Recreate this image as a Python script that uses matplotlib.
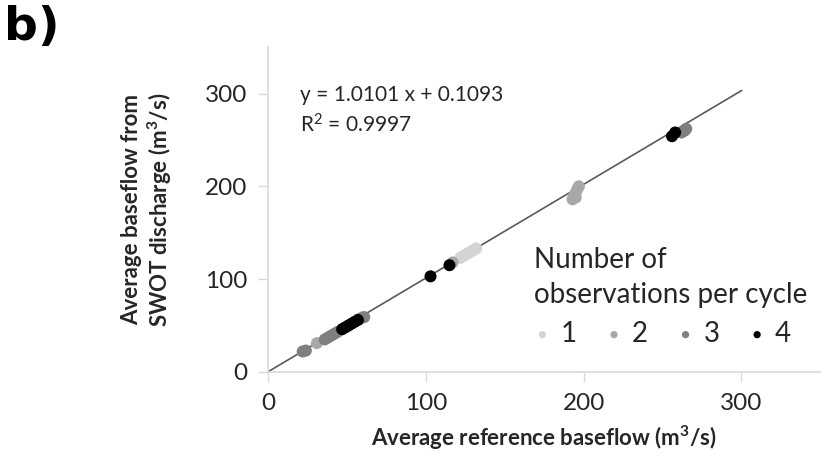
import numpy as np
import matplotlib.pyplot as plt

# average baseflow per station, grouped by number of SWOT observations per cycle
ref_1 = [122, 124, 126, 128, 130, 132]
swot_1 = [123, 125, 127, 129, 131, 133]

ref_2 = [31, 60, 117, 193, 194, 195, 196, 197, 195]
swot_2 = [31, 59, 118, 186, 190, 193, 197, 200, 188]

ref_3 = [22, 24, 36, 38, 40, 42, 44, 58, 61, 262, 264, 265]
swot_3 = [22, 23, 35, 37, 39, 41, 43, 57, 59, 258, 260, 262]

ref_4 = [47, 49, 51, 53, 55, 57, 103, 115, 256, 258]
swot_4 = [46, 48, 50, 52, 54, 56, 103, 115, 254, 258]

labels = ['1', '2', '3', '4']
colors = ['#d4d4d4', '#a8a8a8', '#7f7f7f', '#000000']

slope, intercept, r2 = 1.0101, 0.1093, 0.9997

plt.rcParams['font.family'] = ['Lato', 'DejaVu Sans']
plt.rcParams['mathtext.default'] = 'regular'
txt = '#262626'

fig = plt.figure(figsize=(8.27, 4.62), dpi=100)
ax = fig.add_axes([0.324, 0.195, 0.668, 0.703])

groups = [(ref_1, swot_1), (ref_2, swot_2), (ref_3, swot_3), (ref_4, swot_4)]

# fitted line drawn under the markers
xl = np.array([0, 300])
ax.plot(xl, slope * xl + intercept, color='#595959', lw=1.2, zorder=1)

for (x, y), lab, c in zip(groups, labels, colors):
    ax.scatter(x, y, s=75, color=c, edgecolors='none', label=lab, zorder=2)

ax.set_xlim(0, 350)
ax.set_ylim(0, 350)
ax.set_xticks([0, 100, 200, 300])
ax.set_yticks([0, 100, 200, 300])
ax.tick_params(labelsize=17.5, colors='#d9d9d9', labelcolor=txt,
               length=7, width=1, direction='out', pad=8)

for side in ['top', 'right']:
    ax.spines[side].set_visible(False)
for side in ['left', 'bottom']:
    ax.spines[side].set_color('#d9d9d9')
    ax.spines[side].set_linewidth(1.2)

ax.set_xlabel('Average reference baseflow (m$^3$/s)', fontsize=16,
              fontweight='bold', color=txt, labelpad=7)
ax.set_ylabel('Average baseflow from\nSWOT discharge (m$^3$/s)', fontsize=16,
              fontweight='bold', color=txt, labelpad=22, linespacing=1.15)

ax.text(20, 298, f'y = {slope:.4f} x + {intercept:.4f}', fontsize=15,
        color=txt, va='center')
ax.text(20, 266, f'R$^2$ = {r2:.4f}', fontsize=15, color=txt, va='center')

leg = ax.legend(title='Number of\nobservations per cycle', ncol=4, frameon=False,
                fontsize=20, title_fontsize=20, loc='upper left',
                bbox_to_anchor=(534 / 827, 1 - 247 / 462),
                bbox_transform=fig.transFigure, handlelength=0.6,
                handletextpad=0.35, columnspacing=1.05, markerscale=0.6,
                borderpad=0, borderaxespad=0, labelspacing=0.2)
leg._legend_box.align = 'left'
leg._legend_box.sep = 9
for t in leg.get_texts():
    t.set_color(txt)
leg.get_title().set_color(txt)
leg.get_title().set_linespacing(1.45)

fig.text(0.005, 0.99, 'b)', fontsize=34, fontweight='bold', va='top',
         family='DejaVu Sans')

fig.savefig('out.png', dpi=100)
